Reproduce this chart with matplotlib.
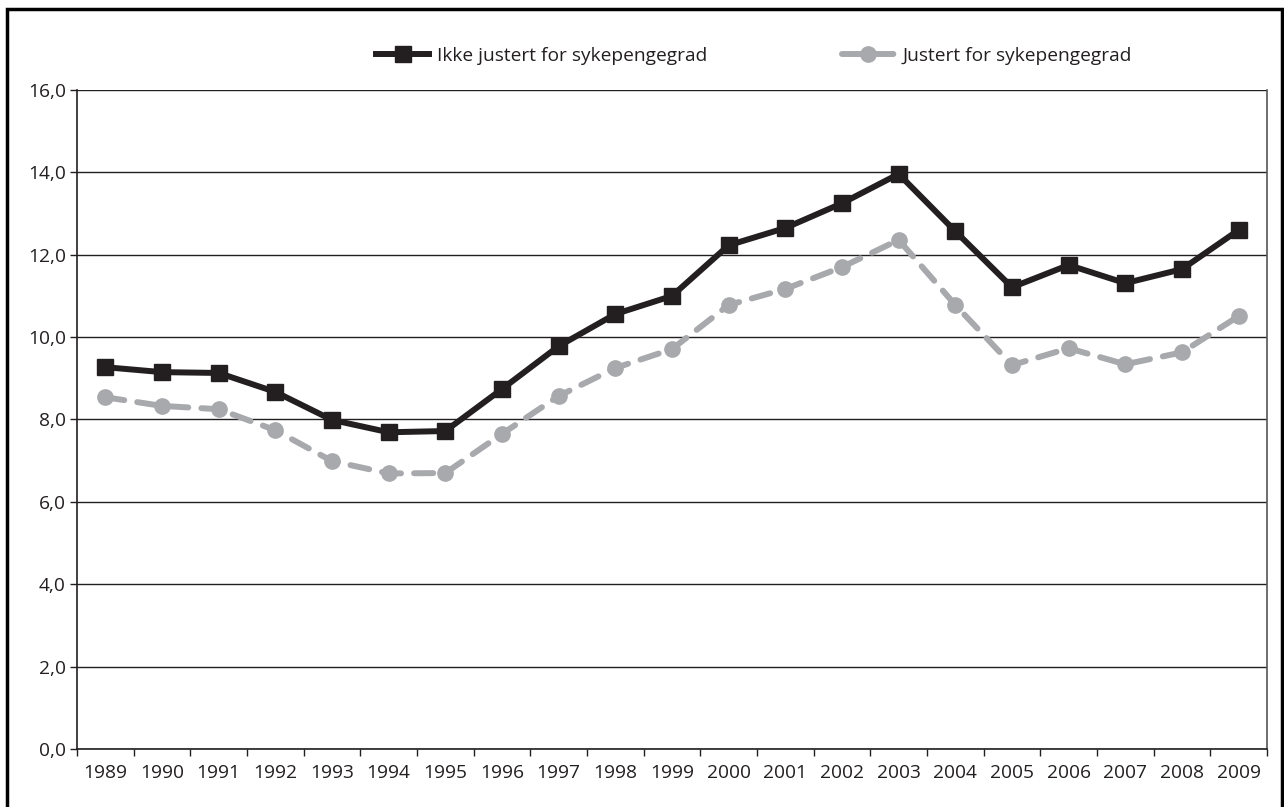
import numpy as np
import matplotlib.pyplot as plt
from matplotlib.patches import Rectangle

# ---------------- data ----------------
years = [str(y) for y in range(1989, 2010)]
ikke_justert = [9.27, 9.15, 9.13, 8.67, 7.99, 7.69, 7.72, 8.74, 9.78, 10.56, 11.0,
                12.23, 12.65, 13.25, 13.96, 12.57, 11.21, 11.75, 11.31, 11.65, 12.6]
justert = [8.54, 8.33, 8.25, 7.74, 6.99, 6.69, 6.70, 7.65, 8.57, 9.25, 9.71,
           10.78, 11.17, 11.70, 12.36, 10.78, 9.32, 9.73, 9.34, 9.63, 10.51]
labels = ["Ikke justert for sykepengegrad", "Justert for sykepengegrad"]
yticks = [0, 2, 4, 6, 8, 10, 12, 14, 16]

BLACK = "#231f20"
GREY = "#a7a9ac"
FS = 13.8

plt.rcParams['font.family'] = ['Open Sans', 'DejaVu Sans']

W, H = 1284, 807
fig = plt.figure(figsize=(W / 100, H / 100), dpi=100)
ax = fig.add_axes([77 / W, 1 - 749 / H, (1267 - 77) / W, (749 - 90) / H])

x = np.arange(len(years))
ax.plot(x, ikke_justert, color=BLACK, lw=4.3, marker='s', ms=11.5,
        solid_joinstyle='miter', label=labels[0], zorder=4)
ax.plot(x, justert, color=GREY, lw=4.3, marker='o', ms=11, dashes=(3.2, 2.2),
        dash_capstyle='round', label=labels[1], zorder=3)

ax.set_xlim(-0.5, len(years) - 0.5)
ax.set_ylim(0, 16)
ax.set_yticks(yticks)
ax.set_yticklabels([f"{v:.1f}".replace(".", ",") for v in yticks])
ax.set_xticks(x)
ax.set_xticklabels(years)
ax.set_xticks(np.arange(len(years) + 1) - 0.5, minor=True)
ax.tick_params(axis='x', which='major', length=0, pad=11, labelsize=FS, colors=BLACK)
ax.tick_params(axis='x', which='minor', length=5, width=1, color=BLACK)
ax.tick_params(axis='y', length=5, width=1, pad=3, labelsize=FS, colors=BLACK)

ax.yaxis.grid(True, color=BLACK, lw=1)
ax.set_axisbelow(True)
for s in ['left', 'bottom']:
    ax.spines[s].set_color(BLACK)
    ax.spines[s].set_linewidth(1.2)
ax.spines['right'].set_color("#555555")
ax.spines['right'].set_linewidth(1.2)
ax.spines['top'].set_visible(False)

leg = fig.legend(loc='center', bbox_to_anchor=(754 / W, 1 - 56 / H), ncol=2,
                 frameon=False, fontsize=FS, handlelength=2.8, handletextpad=0.4,
                 columnspacing=7.0)
for t in leg.get_texts():
    t.set_color(BLACK)

# outer frame (bottom edge falls outside the picture)
fig.patches.append(Rectangle((7 / W, -0.02), (1282 - 7) / W, 1.02 - 9 / H,
                             transform=fig.transFigure, fill=False,
                             edgecolor='black', lw=2.5))

fig.savefig("out.png", dpi=100)
